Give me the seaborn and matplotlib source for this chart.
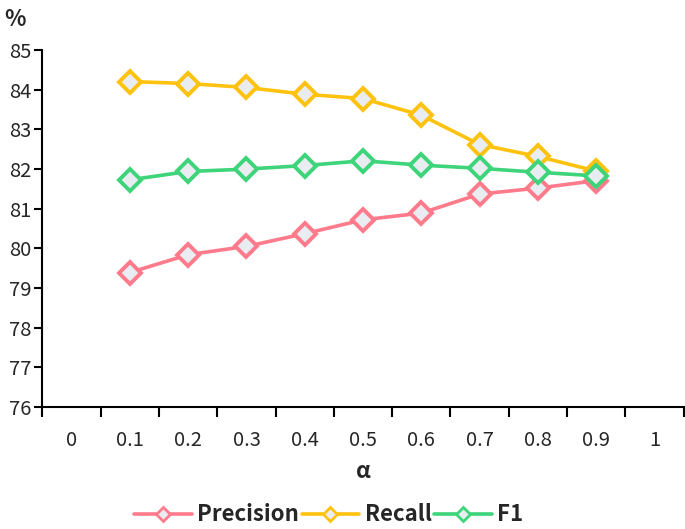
import numpy as np
import pandas as pd
import seaborn as sns
import matplotlib
matplotlib.use('Agg')
import matplotlib.pyplot as plt
from matplotlib.ticker import FixedLocator

# 数据：从图中读取
alpha_labels = ['0', '0.1', '0.2', '0.3', '0.4', '0.5', '0.6', '0.7', '0.8', '0.9', '1']
alpha = [0.1, 0.2, 0.3, 0.4, 0.5, 0.6, 0.7, 0.8, 0.9]
precision = [79.39, 79.84, 80.05, 80.37, 80.72, 80.89, 81.37, 81.52, 81.71]
recall = [84.21, 84.16, 84.06, 83.89, 83.78, 83.36, 82.62, 82.32, 81.95]
f1 = [81.73, 81.94, 82.00, 82.09, 82.21, 82.10, 82.02, 81.92, 81.83]

series_names = ['Precision', 'Recall', 'F1']
colors = ['#FF7B8C', '#FFC20E', '#3DD47A']

df = pd.DataFrame({
    'alpha': alpha * 3,
    'value': precision + recall + f1,
    'metric': np.repeat(series_names, len(alpha)),
})

sns.set_style('white')
plt.rcParams['font.family'] = ['Noto Sans CJK SC', 'DejaVu Sans']

fig = plt.figure(figsize=(6.85, 5.29), dpi=100)
ax = fig.add_axes([0.062, 0.231, 0.936, 0.674])

sns.lineplot(data=df, x='alpha', y='value', hue='metric', hue_order=series_names,
             palette=colors, marker='D', markersize=11, markeredgewidth=2.8,
             markerfacecolor='#E9EDF2', linewidth=2.6, ax=ax, legend=True)
# 标记边框与线同色
for line, c in zip(ax.get_lines(), colors):
    line.set_markeredgecolor(c)

ax.set_ylim(76, 85)
ax.set_yticks(range(76, 86))
ax.set_xlim(-0.05, 1.05)

# x轴：刻度线在类别之间，标签在类别中心
ax.xaxis.set_major_locator(FixedLocator(np.arange(-0.05, 1.06, 0.1)))
ax.xaxis.set_minor_locator(FixedLocator(np.arange(0, 1.01, 0.1)))
ax.set_xticklabels([], minor=False)
ax.set_xticklabels(alpha_labels, minor=True)
ax.tick_params(axis='x', which='major', bottom=True, direction='out', length=7, width=1.5, color='black')
ax.tick_params(axis='x', which='minor', bottom=True, length=0, pad=17, labelsize=14.5)
ax.tick_params(axis='y', left=True, direction='out', length=6, width=1.5, color='black', labelsize=14.5, pad=2)

for s in ['top', 'right']:
    ax.spines[s].set_visible(False)
for s in ['left', 'bottom']:
    ax.spines[s].set_color('black')
    ax.spines[s].set_linewidth(1.5)

ax.set_xlabel('α', fontsize=16, fontweight='bold', labelpad=6)
ax.set_ylabel('')
fig.text(0.006, 0.985, '%', fontsize=16, fontweight='bold', va='top', ha='left')

handles, labels = ax.get_legend_handles_labels()
for h, c in zip(handles, colors):
    h.set_marker('D')
    h.set_markersize(7)
    h.set_markeredgewidth(2)
    h.set_markeredgecolor(c)
    h.set_markerfacecolor('#E9EDF2')
    h.set_linewidth(2.6)
ax.legend(handles, labels, loc='lower center', bbox_to_anchor=(0.48, -0.012),
          bbox_transform=fig.transFigure, ncol=3, frameon=False,
          prop={'weight': 'bold', 'size': 16}, handlelength=2.6,
          handletextpad=0.25, columnspacing=0.1, borderaxespad=0.0)

fig.savefig('out.png', dpi=100)
